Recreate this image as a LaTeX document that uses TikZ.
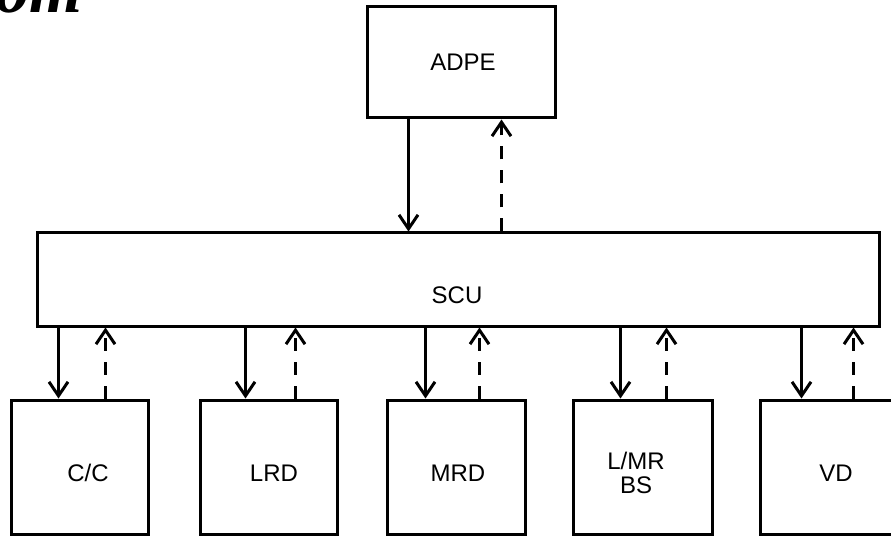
\documentclass[tikz,border=0pt]{standalone}
\usepackage{fontspec}
\setmainfont{Liberation Sans}
\newfontfamily\scanserif{Liberation Serif}
\usetikzlibrary{arrows.meta}

\begin{document}
\begin{tikzpicture}[
  x=1pt,y=-1pt,
  every node/.style={font=\fontsize{24}{24}\selectfont, align=center},
  unit/.style={draw, line width=3pt, inner sep=0pt},
  flow/.style={line width=3pt, -{Straight Barb[length=14pt,width=19pt,line width=3pt]}},
  back/.style={flow, dash pattern=on 13pt off 11pt}
]
\useasboundingbox (0,0) rectangle (891,537);

\node[anchor=base east, font=\scanserif\bfseries\itshape\fontsize{68}{68}\selectfont] (mark) at (86,13) {com};

\node[unit, minimum width=188, minimum height=111] (adpe) at (461,62.5) {};
\node (adpetxt) at (463,62) {ADPE};
\node[unit, minimum width=842, minimum height=93] (scu) at (458,279.5) {};
\node (scutxt) at (457,295) {SCU};

\coordinate (adped) at ([xshift=43pt]adpe.south west);
\coordinate (adpeu) at ([xshift=136pt]adpe.south west);
\draw[flow] (adped) -- (scu.north -| adped);
\draw[back] (scu.north -| adpeu) -- (adpeu);

% bottom row: name / left / right / text x / down / up / text
\foreach \name/\xl/\xr/\xt/\da/\ua/\txt in {
  cc/11/148/88/49/96/{C/C},
  lrd/200/337/274/47/97/LRD,
  mrd/387/525/458/40/94/MRD,
  lmrbs/573/712/636/49/95/{L/MR\\BS},
  vd/760/905/836/43/95/VD} {
  \node[unit, minimum width=\xr-\xl, minimum height=134] (\name) at ({(\xl+\xr)/2},467) {};
  \node (\name txt) at (\xt,473) {\txt};
  \coordinate (\name d) at ([xshift=\da pt]\name.north west);
  \coordinate (\name u) at ([xshift=\ua pt]\name.north west);
  \draw[flow] (scu.south -| \name d) -- (\name d);
  \draw[back] (\name u) -- (scu.south -| \name u);
}
\end{tikzpicture}
\end{document}
